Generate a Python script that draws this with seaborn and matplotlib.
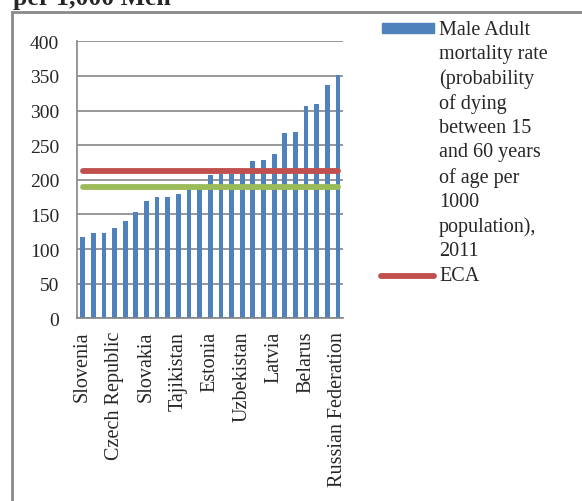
import matplotlib
matplotlib.use("Agg")
import matplotlib.pyplot as plt
import seaborn as sns
import pandas as pd
from matplotlib.patches import Rectangle
from matplotlib.lines import Line2D

countries = ["Slovenia", "Albania", "Croatia", "Czech Republic", "Macedonia, FYR",
             "Poland", "Slovakia", "Bosnia and Herzegovina", "Montenegro", "Tajikistan",
             "Serbia", "Romania", "Estonia", "Bulgaria", "Hungary", "Uzbekistan",
             "Azerbaijan", "Armenia", "Latvia", "Lithuania", "Moldova", "Belarus",
             "Ukraine", "Kazakhstan", "Russian Federation"]
male_mortality = [117, 123, 123, 131, 140, 154, 170, 175, 175, 180,
                  187, 192, 207, 208, 209, 210, 227, 228, 237, 267,
                  269, 307, 310, 337, 351]
eca_value = 213
green_value = 190
yticks = [0, 50, 100, 150, 200, 250, 300, 350, 400]
legend_bar = ("Male Adult\nmortality rate\n(probability\nof dying\nbetween 15\n"
              "and 60 years\nof age per\n1000\npopulation),\n2011")
legend_line = "ECA"
title = "per 1,000 Men"

sns.set_theme(style="white")
plt.rcParams["font.family"] = ["Liberation Serif", "DejaVu Serif"]

W, H = 582, 502
fig = plt.figure(figsize=(W / 100, H / 100), dpi=100)
ax = fig.add_axes([77.3 / W, 1 - 319.3 / H, 266 / W, 277 / H])

df = pd.DataFrame({"country": countries, "value": male_mortality})
sns.barplot(data=df, x="country", y="value", color="#4F81BD", saturation=1,
            width=0.45, linewidth=0, edgecolor="none", ax=ax, order=countries)

n = len(countries)
ax.plot([0, n - 1], [eca_value, eca_value], color="#C0504D", lw=4.2,
        solid_capstyle="round", zorder=5)
ax.plot([0, n - 1], [green_value, green_value], color="#9BBB59", lw=4.2,
        solid_capstyle="round", zorder=5)

ax.set_xlim(-0.5, n - 0.5)
ax.set_ylim(0, 400)
ax.set_yticks(yticks)
ax.set_yticklabels([str(v) for v in yticks], fontsize=14)
ax.yaxis.grid(True, color="#868686", lw=1.2)
ax.set_axisbelow(True)
ax.tick_params(axis="y", length=2, color="#868686", width=1.2, pad=11)
idx = list(range(0, n, 3))
ax.set_xticks(idx)
ax.set_xticklabels([countries[i] for i in idx], rotation=90, fontsize=14.5)
ax.tick_params(axis="x", length=0, pad=9)
ax.set_xlabel("")
ax.set_ylabel("")
for s in ["top", "right"]:
    ax.spines[s].set_visible(False)
for s in ["left", "bottom"]:
    ax.spines[s].set_color("#868686")
    ax.spines[s].set_linewidth(1.2)

# outer chart border
fig.patches.append(Rectangle((12 / W, -0.1), 1.2, 1 - 13 / H + 0.1,
                             transform=fig.transFigure, fill=False,
                             edgecolor="#898989", lw=2, zorder=0))

# title (cut off at top)
fig.text(13 / W, 1 - 5 / H, title, fontsize=18.5, fontweight="bold",
         ha="left", va="baseline")

# legend drawn manually
fig.patches.append(Rectangle((382 / W, 1 - 34 / H), 52 / W, 10 / H,
                             transform=fig.transFigure, color="#4F81BD"))
fig.text(439 / W, 1 - 21 / H, legend_bar, fontsize=14.5, ha="left", va="top",
         linespacing=1.36)
fig.lines.append(Line2D([381 / W, 434 / W], [1 - 277 / H, 1 - 277 / H],
                        transform=fig.transFigure, color="#C0504D", lw=4.2,
                        solid_capstyle="round"))
fig.text(439 / W, 1 - 277 / H, legend_line, fontsize=14.5, ha="left", va="center")

fig.savefig("out.png", dpi=100)
